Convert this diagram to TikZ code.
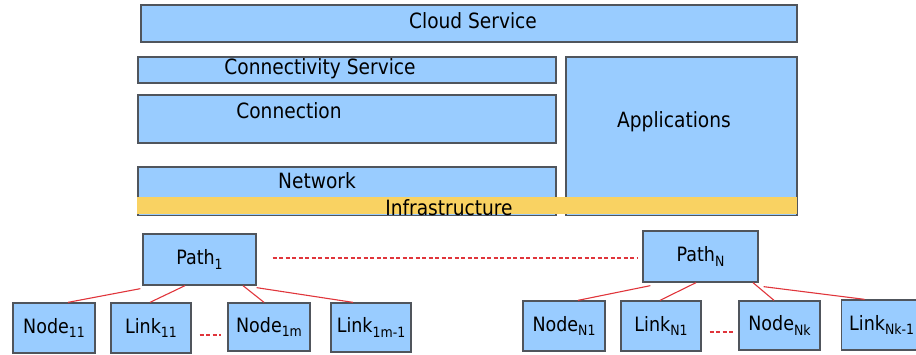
\documentclass[tikz,border=0pt]{standalone}
\usepackage{fontspec}
\setmainfont{DejaVu Sans}
\definecolor{boxblue}{HTML}{99CCFF}
\definecolor{boxedge}{HTML}{50555C}
\definecolor{infra}{HTML}{F9D262}
\definecolor{linkred}{HTML}{E0353B}
% lowered index and slightly tall lettering
\newcommand\lsub[1]{\raisebox{-4pt}{\fontsize{12.5}{12.5}\selectfont #1}}
\newcommand\tall[1]{\scalebox{1}[1.13]{#1}}
\tikzset{
  blk/.style={draw=boxedge, line width=1.3pt, fill=boxblue, inner sep=0pt},
  big/.style={font=\fontsize{18.6}{20}\selectfont, inner sep=0pt},
  small/.style={blk, font=\fontsize{17.5}{20}\selectfont},
  tie/.style={draw=linkred, line width=1.1pt},
  gap/.style={tie, dash pattern=on 4pt off 2.5pt}
}
\begin{document}
\begin{tikzpicture}[x=1pt, y=-1pt]
\useasboundingbox (0,0) rectangle (916,354);

% upper layers
\node[blk, minimum width=656pt, minimum height=37pt] (cloud) at (469,23.5) {};
\node[blk, minimum width=418pt, minimum height=26pt] (csvc) at (347,70) {};
\node[blk, minimum width=418pt, minimum height=48pt] (conn) at (347,119) {};
\node[blk, minimum width=418pt, minimum height=48.5pt] (net) at (347,191.25) {};
\node[blk, minimum width=231pt, minimum height=158.5pt] (apps) at (681.5,136.25) {};
\fill[infra] (137,197) rectangle (797,214.3);
\coordinate (infraC) at (449,207.5);

\node[big] (cloudT) at (473,21) {\tall{Cloud Service}};
\node[big] (csvcT) at (320,69) {\tall{Connectivity Service}};
\node[big] (connT) at (289,111) {\tall{Connection}};
\node[big] (netT) at (317,181) {\tall{Network}};
\node[big] (appsT) at (674,122) {\tall{Applications}};
\node[big] (infraT) at (infraC) {\tall{Infrastructure}};

% paths
\node[small, minimum width=113pt, minimum height=51pt] (p1) at (199.5,259.5) {\tall{Path\lsub{1}}};
\node[small, minimum width=115pt, minimum height=51pt] (pN) at (700.5,256.5) {\tall{Path\lsub{N}}};

% elements of path 1
\node[small, minimum width=82pt, minimum height=50pt] (n11) at (54,328) {\tall{Node\lsub{11}}};
\node[small, minimum width=80pt, minimum height=50pt] (l11) at (151,328) {\tall{Link\lsub{11}}};
\node[small, minimum width=82pt, minimum height=48pt] (n1m) at (269,327) {\tall{Node\lsub{1m}}};
\node[small, minimum width=80pt, minimum height=49pt] (l1m) at (371,327.5) {\tall{Link\lsub{1m-1}}};

% elements of path N
\node[small, minimum width=82pt, minimum height=50pt] (nN1) at (564,326) {\tall{Node\lsub{N1}}};
\node[small, minimum width=80pt, minimum height=50pt] (lN1) at (661,326) {\tall{Link\lsub{N1}}};
\node[small, minimum width=81pt, minimum height=49pt] (nNk) at (779.5,325.5) {\tall{Node\lsub{Nk}}};
\node[small, minimum width=80pt, minimum height=50pt, anchor=west] (lNk) at (841,325) {\tall{Link\lsub{Nk-1}}};

% tree connectors
\draw[tie] ([xshift=-2pt,yshift=-3pt]p1.south west) -- ([xshift=14pt]n11.north);
\draw[tie] ([xshift=-14.5pt]p1.south) -- ([xshift=-1pt]l11.north);
\draw[tie] ([xshift=43.5pt]p1.south) -- ([xshift=-5pt]n1m.north);
\draw[tie] ([yshift=-2pt]p1.south east) -- ([xshift=-18pt]l1m.north);

\draw[tie] ([xshift=8pt,yshift=-3pt]pN.south west) -- ([xshift=14pt]nN1.north);
\draw[tie] ([xshift=-4.5pt]pN.south) -- ([xshift=-1pt]lN1.north);
\draw[tie] ([xshift=52.5pt]pN.south) -- ([xshift=-5.5pt]nNk.north);
\draw[tie] ([xshift=5pt,yshift=-4pt]pN.south east) -- ([xshift=-17pt]lNk.north);

% elided siblings
\draw[gap] ([xshift=16pt,yshift=1.5pt]p1.east) -- ([xshift=-5pt,yshift=1.5pt]p1.east -| pN.west);
\draw[gap] ([xshift=8pt,yshift=-7pt]l11.east) -- ([xshift=-6pt,yshift=-7pt]l11.east -| n1m.west);
\draw[gap] ([xshift=8pt,yshift=-6pt]lN1.east) -- ([xshift=-5pt,yshift=-6pt]lN1.east -| nNk.west);
\end{tikzpicture}
\end{document}
